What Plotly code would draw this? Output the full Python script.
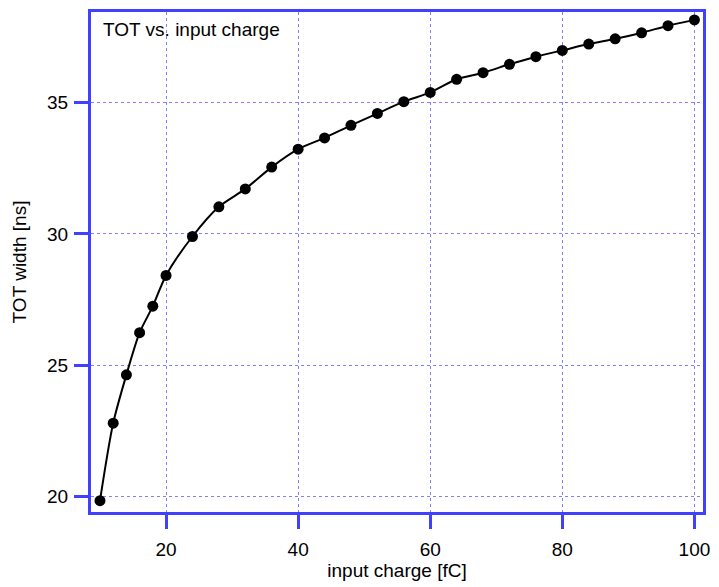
import plotly.graph_objects as go

charge = [10, 12, 14, 16, 18, 20, 24, 28, 32, 36, 40, 44, 48, 52, 56, 60,
          64, 68, 72, 76, 80, 84, 88, 92, 96, 100]
tot = [19.85, 22.8, 24.64, 26.24, 27.25, 28.42, 29.9, 31.03, 31.71, 32.54,
       33.22, 33.65, 34.13, 34.58, 35.03, 35.38, 35.88, 36.13, 36.45, 36.74,
       36.98, 37.22, 37.42, 37.65, 37.92, 38.14]
x_ticks = [20, 40, 60, 80, 100]
y_ticks = [20, 25, 30, 35]

blue = "#4040ff"
grid = "#8080ff"
font = "Liberation Sans, Arial, sans-serif"
fs = 19

fig = go.Figure()
fig.add_trace(go.Scatter(
    x=charge, y=tot, mode="lines+markers",
    line=dict(color="black", width=2, shape="spline", smoothing=0.8),
    marker=dict(color="black", size=11),
    showlegend=False,
))

axis_common = dict(
    showline=True, linecolor=blue, linewidth=3, mirror=True,
    ticks="outside", ticklen=14, tickwidth=3, tickcolor=blue,
    showgrid=True, gridcolor=grid, gridwidth=1, griddash="dot",
    zeroline=False,
    tickfont=dict(family=font, size=fs, color="black"),
)

fig.update_layout(
    width=719, height=587,
    margin=dict(l=91, r=11, t=9, b=75),
    paper_bgcolor="white", plot_bgcolor="white",
    font=dict(family=font, size=fs, color="black"),
    xaxis=dict(range=[8.64, 101.3], tickvals=x_ticks, ticklabelstandoff=4,
               title=dict(text="input charge [fC]", font=dict(family=font, size=fs), standoff=4),
               **axis_common),
    yaxis=dict(range=[19.42, 38.44], tickvals=y_ticks, ticklabelstandoff=2,
               title=dict(text="TOT width [ns]", font=dict(family=font, size=fs), standoff=16),
               **axis_common),
    annotations=[dict(
        text="TOT vs. input charge", x=0, y=1, xref="paper", yref="paper",
        xanchor="left", yanchor="top", xshift=10, yshift=-5, showarrow=False,
        font=dict(family=font, size=fs, color="black"),
    )],
)

fig.write_html("out.html")
